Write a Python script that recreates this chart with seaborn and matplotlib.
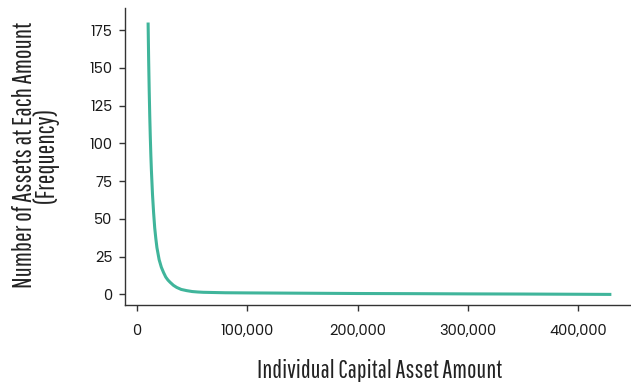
import matplotlib
matplotlib.use("Agg")
import matplotlib.pyplot as plt
import matplotlib.ticker as mticker
import seaborn as sns
import pandas as pd

# Data
asset_amount = [10000, 10500, 11000, 11500, 12000, 12500, 13000, 14000, 15000,
                16000, 17000, 18000, 20000, 22000, 24000, 26000, 28000, 30000,
                33000, 36000, 40000, 45000, 50000, 55000, 60000, 70000, 80000,
                100000, 150000, 200000, 250000, 300000, 350000, 400000, 430000]
frequency = [180, 155, 135, 118, 104, 92, 82, 66, 54,
             44, 37, 31, 23, 18, 14.5, 11.5, 9.5, 8,
             6, 4.6, 3.3, 2.5, 1.9, 1.6, 1.4, 1.25, 1.1,
             1.0, 0.8, 0.6, 0.5, 0.35, 0.25, 0.1, 0.0]
x_ticks = [0, 100000, 200000, 300000, 400000]
y_ticks = [0, 25, 50, 75, 100, 125, 150, 175]
x_label = "Individual Capital Asset Amount"
y_label = "Number of Assets at Each Amount\n(Frequency)"

df = pd.DataFrame({"amount": asset_amount, "freq": frequency})

sns.set_theme(style="ticks")
plt.rcParams["font.family"] = ["Poppins", "DejaVu Sans"]
label_font = ["Pathway Gothic One", "Oswald", "DejaVu Sans"]

fig = plt.figure(figsize=(6.31, 3.82), dpi=100)
ax = fig.add_axes([0.198, 0.2016, 0.8076, 0.777])

sns.lineplot(data=df, x="amount", y="freq", ax=ax, color="#40b59b",
             linewidth=2.2, solid_capstyle="butt")

ax.set_xlim(-11000, 451000)
ax.set_ylim(-7, 189.5)
ax.set_xticks(x_ticks)
ax.set_yticks(y_ticks)
ax.xaxis.set_major_formatter(mticker.FuncFormatter(lambda v, p: f"{int(v):,}"))

for s in ["top", "right"]:
    ax.spines[s].set_visible(False)
for s in ["left", "bottom"]:
    ax.spines[s].set_color("#333333")
    ax.spines[s].set_linewidth(1.0)

ax.tick_params(axis="both", direction="out", length=4, width=1, color="#333333",
               labelsize=10.5, labelcolor="#1a1a1a", pad=5)
ax.tick_params(axis="x", pad=10)

ax.set_xlabel(x_label, fontsize=18, family=label_font, color="#222222")
ax.xaxis.set_label_coords(0.5, -0.222)
ax.xaxis.label.set_va("center")
ax.set_ylabel(y_label, fontsize=18.5, family=label_font, color="#222222",
              linespacing=0.8)
ax.yaxis.set_label_coords(-0.176, 0.505)
ax.yaxis.label.set_va("center")

fig.savefig("out.png", dpi=100)
